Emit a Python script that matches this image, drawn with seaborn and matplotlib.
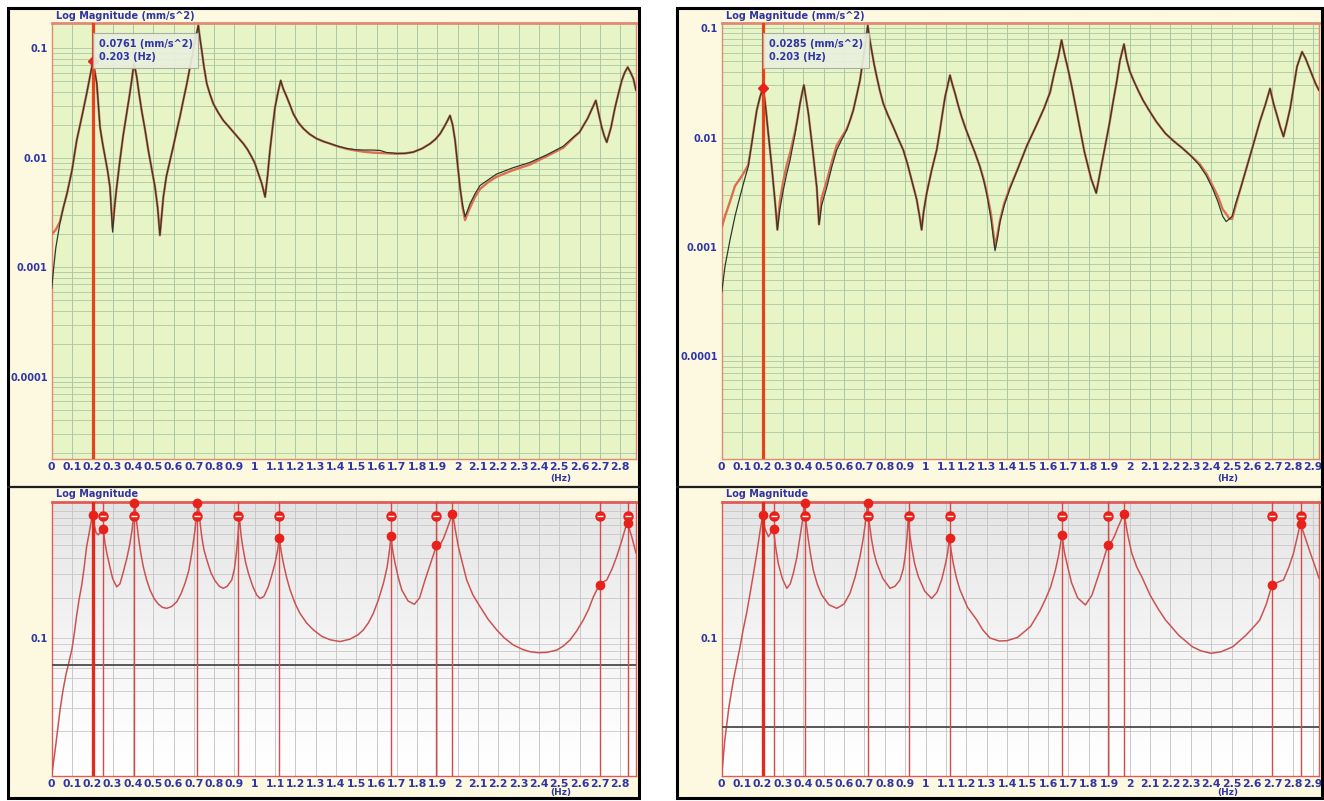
import numpy as np
import matplotlib
matplotlib.use("Agg")
import matplotlib.pyplot as plt
import seaborn as sns
from matplotlib.patches import Rectangle
from matplotlib.lines import Line2D
from matplotlib.ticker import LogLocator, NullFormatter
from matplotlib.colors import LinearSegmentedColormap
import matplotlib.transforms as mtransforms

sns.set_style("white")
plt.rcParams['font.family'] = ['DejaVu Sans']

# ---------------- data ----------------
freq_ticks = [0, 0.1, 0.2, 0.3, 0.4, 0.5, 0.6, 0.7, 0.8, 0.9, 1, 1.1, 1.2, 1.3, 1.4,
              1.5, 1.6, 1.7, 1.8, 1.9, 2, 2.1, 2.2, 2.3, 2.4, 2.5, 2.6, 2.7, 2.8, 2.9]
freq_tick_labels = ["0", "0.1", "0.2", "0.3", "0.4", "0.5", "0.6", "0.7", "0.8", "0.9", "1",
                    "1.1", "1.2", "1.3", "1.4", "1.5", "1.6", "1.7", "1.8", "1.9", "2",
                    "2.1", "2.2", "2.3", "2.4", "2.5", "2.6", "2.7", "2.8", "2.9"]
top_y_ticks = [0.0001, 0.001, 0.01, 0.1]
top_y_labels = ["0.0001", "0.001", "0.01", "0.1"]
bot_y_ticks = [0.1]
bot_y_labels = ["0.1"]

cursor_freq = 0.203

# Left panel, top FRF (measured / synthesized)
LT_f = [0.0, 0.01, 0.02, 0.04, 0.057, 0.075, 0.10, 0.123, 0.148, 0.172, 0.188, 0.203, 0.212,
        0.222, 0.238, 0.25, 0.263, 0.276, 0.287, 0.30, 0.31, 0.318, 0.336, 0.352, 0.369,
        0.383, 0.394, 0.405, 0.412, 0.419, 0.43, 0.443, 0.46, 0.476, 0.492, 0.509, 0.522,
        0.533, 0.55, 0.565, 0.583, 0.60, 0.616, 0.632, 0.648, 0.665, 0.681, 0.695, 0.706,
        0.715, 0.722, 0.73, 0.739, 0.75, 0.764, 0.78, 0.796, 0.82, 0.845, 0.87, 0.895, 0.92,
        0.944, 0.965, 0.985, 1.0, 1.018, 1.035, 1.051, 1.063, 1.075, 1.088, 1.10, 1.115,
        1.128, 1.14, 1.158, 1.175, 1.19, 1.215, 1.24, 1.27, 1.305, 1.34, 1.371, 1.41, 1.453,
        1.495, 1.535, 1.575, 1.617, 1.65, 1.70, 1.74, 1.781, 1.825, 1.864, 1.89, 1.913,
        1.935, 1.95, 1.962, 1.975, 1.987, 2.0, 2.011, 2.024, 2.036, 2.048, 2.06, 2.085,
        2.11, 2.15, 2.19, 2.27, 2.356, 2.44, 2.52, 2.57, 2.60, 2.64, 2.665, 2.68, 2.695,
        2.709, 2.722, 2.734, 2.755, 2.775, 2.792, 2.808, 2.822, 2.837, 2.85, 2.865, 2.878]
LT_meas = [0.00064, 0.0010, 0.0015, 0.0025, 0.0035, 0.0047, 0.0077, 0.0144, 0.0236, 0.0385,
           0.055, 0.0761, 0.062, 0.048, 0.0191, 0.0138, 0.0102, 0.0075, 0.0054, 0.0021,
           0.0036, 0.0050, 0.0095, 0.016, 0.0253, 0.037, 0.051, 0.0725, 0.064, 0.0547,
           0.039, 0.0271, 0.018, 0.0117, 0.008, 0.0054, 0.0035, 0.00196, 0.0044, 0.0068,
           0.0095, 0.013, 0.0178, 0.024, 0.0335, 0.047, 0.0675, 0.09, 0.118, 0.14, 0.162,
           0.125, 0.096, 0.068, 0.0476, 0.038, 0.0313, 0.026, 0.022, 0.0195, 0.0172, 0.0152,
           0.0135, 0.0119, 0.0102, 0.0090, 0.0072, 0.0058, 0.0044, 0.0068, 0.0117, 0.019,
           0.029, 0.040, 0.051, 0.043, 0.036, 0.030, 0.0253, 0.021, 0.0185, 0.0165, 0.0150,
           0.0141, 0.0135, 0.0128, 0.0122, 0.0119, 0.0118, 0.0118, 0.0117, 0.0112, 0.0110,
           0.0110, 0.0113, 0.0122, 0.0135, 0.0148, 0.0166, 0.0195, 0.0220, 0.0244, 0.020,
           0.0144, 0.0085, 0.0054, 0.0037, 0.0029, 0.0033, 0.0038, 0.0047, 0.0056, 0.0063,
           0.0071, 0.0081, 0.0091, 0.0107, 0.0128, 0.0155, 0.0172, 0.023, 0.029, 0.0335,
           0.025, 0.0191, 0.0158, 0.0139, 0.019, 0.029, 0.039, 0.051, 0.060, 0.0675, 0.061,
           0.053, 0.0414]
LT_synth = [0.0020, 0.0021, 0.0022, 0.0026, 0.0035, 0.0047, 0.0077, 0.0144, 0.0236, 0.0385,
            0.055, 0.0761, 0.062, 0.048, 0.0191, 0.0138, 0.0102, 0.0075, 0.0054, 0.0023,
            0.0036, 0.0050, 0.0095, 0.016, 0.0253, 0.037, 0.051, 0.0725, 0.064, 0.0547,
            0.039, 0.0271, 0.018, 0.0117, 0.008, 0.0054, 0.0035, 0.00196, 0.0044, 0.0068,
            0.0095, 0.013, 0.0178, 0.024, 0.0335, 0.047, 0.0675, 0.09, 0.118, 0.14, 0.162,
            0.125, 0.096, 0.068, 0.0476, 0.038, 0.0313, 0.026, 0.022, 0.0195, 0.0172, 0.0152,
            0.0135, 0.0119, 0.0102, 0.0090, 0.0072, 0.0058, 0.0044, 0.0068, 0.0117, 0.019,
            0.029, 0.040, 0.051, 0.043, 0.036, 0.030, 0.0253, 0.021, 0.0185, 0.0165, 0.0150,
            0.0141, 0.0135, 0.0127, 0.0121, 0.0117, 0.0114, 0.0112, 0.0111, 0.0110, 0.0109,
            0.0110, 0.0113, 0.0122, 0.0135, 0.0148, 0.0166, 0.0195, 0.0220, 0.0244, 0.020,
            0.0144, 0.0085, 0.0054, 0.0035, 0.0027, 0.0031, 0.0035, 0.0044, 0.0052, 0.0060,
            0.0067, 0.0077, 0.0087, 0.0104, 0.0124, 0.0153, 0.0172, 0.023, 0.029, 0.0335,
            0.025, 0.0191, 0.0158, 0.0139, 0.019, 0.029, 0.039, 0.051, 0.060, 0.0675, 0.061,
            0.053, 0.0414]
LT_cursor_val = 0.0761

# Right panel, top FRF
RT_f = [0.0, 0.016, 0.041, 0.065, 0.09, 0.11, 0.13, 0.147, 0.16, 0.172, 0.188, 0.203, 0.21,
        0.217, 0.227, 0.237, 0.245, 0.253, 0.263, 0.273, 0.285, 0.302, 0.318, 0.335, 0.36,
        0.372, 0.384, 0.395, 0.403, 0.414, 0.425, 0.436, 0.446, 0.456, 0.466, 0.477, 0.49,
        0.515, 0.54, 0.564, 0.59, 0.613, 0.63, 0.645, 0.662, 0.678, 0.697, 0.708, 0.716,
        0.725, 0.735, 0.747, 0.76, 0.775, 0.792, 0.815, 0.841, 0.865, 0.89, 0.91, 0.931,
        0.956, 0.97, 0.98, 0.99, 1.005, 1.03, 1.054, 1.07, 1.083, 1.095, 1.108, 1.119, 1.13,
        1.144, 1.16, 1.176, 1.195, 1.217, 1.24, 1.266, 1.285, 1.30, 1.32, 1.34, 1.352, 1.364,
        1.385, 1.413, 1.45, 1.497, 1.54, 1.58, 1.61, 1.629, 1.65, 1.666, 1.68, 1.696, 1.715,
        1.737, 1.758, 1.778, 1.795, 1.811, 1.836, 1.855, 1.878, 1.90, 1.919, 1.937, 1.952,
        1.972, 1.985, 2.0, 2.02, 2.043, 2.065, 2.093, 2.13, 2.175, 2.215, 2.258, 2.30, 2.341,
        2.375, 2.407, 2.432, 2.456, 2.473, 2.489, 2.502, 2.52, 2.545, 2.572, 2.605, 2.638,
        2.665, 2.688, 2.705, 2.721, 2.738, 2.754, 2.77, 2.787, 2.805, 2.82, 2.845, 2.862,
        2.878, 2.895, 2.911, 2.928]
RT_meas = [0.00038, 0.00066, 0.00116, 0.0019, 0.0029, 0.0040, 0.0054, 0.0088, 0.0128, 0.0178,
           0.0236, 0.0285, 0.0230, 0.0178, 0.0115, 0.0077, 0.0055, 0.0038, 0.0024, 0.00143,
           0.0022, 0.0033, 0.0046, 0.0062, 0.0109, 0.0150, 0.0205, 0.026, 0.0302, 0.0225,
           0.0166, 0.0112, 0.0077, 0.0052, 0.0035, 0.0016, 0.0024, 0.0035, 0.0054, 0.0077,
           0.0097, 0.0117, 0.0145, 0.0178, 0.0245, 0.0335, 0.0586, 0.080, 0.106, 0.080,
           0.063, 0.047, 0.036, 0.027, 0.0205, 0.016, 0.0125, 0.0098, 0.0077, 0.0058, 0.0041,
           0.0027, 0.0019, 0.00143, 0.0021, 0.0031, 0.0051, 0.0077, 0.0117, 0.0170, 0.0235,
           0.030, 0.0372, 0.031, 0.0253, 0.0195, 0.0155, 0.0122, 0.0095, 0.0074, 0.0054,
           0.0040, 0.0030, 0.0018, 0.00092, 0.0012, 0.00167, 0.0024, 0.0034, 0.0051, 0.0085,
           0.0126, 0.0185, 0.026, 0.038, 0.055, 0.078, 0.058, 0.0436, 0.030, 0.0185, 0.0115,
           0.0074, 0.0055, 0.0042, 0.0031, 0.0048, 0.0080, 0.0132, 0.0214, 0.033, 0.0503,
           0.0716, 0.052, 0.0406, 0.033, 0.0266, 0.022, 0.0180, 0.014, 0.0109, 0.0093, 0.0080,
           0.0068, 0.0056, 0.0045, 0.0034, 0.0026, 0.0019, 0.0017, 0.0018, 0.0019, 0.0025,
           0.0035, 0.0052, 0.0085, 0.0140, 0.020, 0.0281, 0.0205, 0.0162, 0.0125, 0.0102,
           0.0135, 0.0186, 0.030, 0.0445, 0.061, 0.053, 0.0445, 0.037, 0.0312, 0.027]
RT_synth = [0.0015, 0.0019, 0.0026, 0.0036, 0.0042, 0.0048, 0.0056, 0.0088, 0.0128, 0.0178,
            0.0236, 0.0285, 0.0230, 0.0178, 0.0115, 0.0077, 0.0055, 0.0038, 0.0024, 0.00143,
            0.0026, 0.0040, 0.0055, 0.0072, 0.0115, 0.0150, 0.0205, 0.026, 0.0302, 0.0225,
            0.0166, 0.0112, 0.0077, 0.0052, 0.0035, 0.0016, 0.0028, 0.0040, 0.0060, 0.0085,
            0.0102, 0.0120, 0.0145, 0.0178, 0.0245, 0.0335, 0.0586, 0.080, 0.106, 0.080,
            0.063, 0.047, 0.036, 0.027, 0.0205, 0.016, 0.0125, 0.0098, 0.0077, 0.0058, 0.0041,
            0.0027, 0.0019, 0.00143, 0.0021, 0.0031, 0.0051, 0.0077, 0.0117, 0.0170, 0.0235,
            0.030, 0.0372, 0.031, 0.0253, 0.0195, 0.0155, 0.0122, 0.0095, 0.0074, 0.0054,
            0.0041, 0.0031, 0.0020, 0.00100, 0.0013, 0.00175, 0.0025, 0.0035, 0.0051, 0.0085,
            0.0126, 0.0185, 0.026, 0.038, 0.055, 0.078, 0.058, 0.0436, 0.030, 0.0185, 0.0115,
            0.0074, 0.0055, 0.0042, 0.0031, 0.0048, 0.0080, 0.0132, 0.0214, 0.033, 0.0503,
            0.0716, 0.052, 0.0406, 0.033, 0.0266, 0.022, 0.0180, 0.014, 0.0109, 0.0093, 0.0080,
            0.0068, 0.0058, 0.0047, 0.0036, 0.0029, 0.0022, 0.0020, 0.0018, 0.0018, 0.0024,
            0.0035, 0.0052, 0.0085, 0.0140, 0.020, 0.0281, 0.0205, 0.0162, 0.0125, 0.0102,
            0.0135, 0.0186, 0.030, 0.0445, 0.061, 0.053, 0.0445, 0.037, 0.0312, 0.027]
RT_cursor_val = 0.0285

# Bottom: mode indicator curves
LB_f = [0.0, 0.01, 0.02, 0.03, 0.04, 0.055, 0.07, 0.085, 0.10, 0.112, 0.123, 0.135, 0.148,
        0.16, 0.172, 0.185, 0.195, 0.202, 0.21, 0.218, 0.229, 0.24, 0.248, 0.254, 0.262,
        0.272, 0.287, 0.30, 0.32, 0.336, 0.352, 0.369, 0.384, 0.396, 0.404, 0.41, 0.416,
        0.427, 0.438, 0.451, 0.467, 0.484, 0.505, 0.525, 0.545, 0.566, 0.59, 0.616, 0.637,
        0.657, 0.675, 0.69, 0.703, 0.714, 0.722, 0.729, 0.739, 0.75, 0.764, 0.784, 0.804,
        0.825, 0.845, 0.865, 0.887, 0.90, 0.91, 0.918, 0.924, 0.932, 0.941, 0.955, 0.969,
        0.99, 1.01, 1.026, 1.045, 1.067, 1.085, 1.10, 1.112, 1.121, 1.13, 1.141, 1.157,
        1.174, 1.2, 1.223, 1.255, 1.289, 1.33, 1.371, 1.42, 1.469, 1.51, 1.535, 1.56, 1.584,
        1.61, 1.634, 1.652, 1.664, 1.671, 1.68, 1.691, 1.707, 1.724, 1.755, 1.786, 1.812,
        1.839, 1.865, 1.888, 1.90, 1.913, 1.93, 1.946, 1.962, 1.975, 1.988, 2.003, 2.022,
        2.044, 2.075, 2.11, 2.15, 2.192, 2.23, 2.274, 2.32, 2.356, 2.397, 2.44, 2.488, 2.52,
        2.553, 2.586, 2.619, 2.645, 2.668, 2.697, 2.715, 2.734, 2.76, 2.783, 2.805, 2.822,
        2.833, 2.845, 2.857, 2.878]
LB_v = [0.0092, 0.012, 0.0157, 0.021, 0.028, 0.040, 0.053, 0.066, 0.083, 0.110, 0.148, 0.195,
        0.25, 0.34, 0.485, 0.62, 0.76, 0.84, 0.70, 0.62, 0.595, 0.62, 0.65, 0.67, 0.52,
        0.43, 0.34, 0.28, 0.242, 0.255, 0.31, 0.39, 0.50, 0.65, 0.85, 1.03, 0.80, 0.577,
        0.44, 0.343, 0.275, 0.23, 0.197, 0.180, 0.170, 0.167, 0.172, 0.187, 0.215, 0.258,
        0.32, 0.433, 0.60, 0.82, 1.03, 0.78, 0.577, 0.46, 0.386, 0.31, 0.27, 0.245, 0.236,
        0.245, 0.273, 0.33, 0.44, 0.60, 0.84, 0.60, 0.485, 0.37, 0.306, 0.245, 0.21, 0.198,
        0.205, 0.243, 0.30, 0.365, 0.45, 0.56, 0.45, 0.365, 0.285, 0.23, 0.18, 0.153, 0.13,
        0.115, 0.103, 0.097, 0.094, 0.098, 0.106, 0.115, 0.13, 0.153, 0.195, 0.258, 0.34,
        0.46, 0.577, 0.45, 0.365, 0.285, 0.23, 0.19, 0.179, 0.20, 0.273, 0.36, 0.458, 0.48,
        0.50, 0.56, 0.65, 0.76, 0.866, 0.65, 0.485, 0.37, 0.273, 0.21, 0.172, 0.138, 0.115,
        0.10, 0.0886, 0.082, 0.0789, 0.0775, 0.078, 0.0812, 0.087, 0.0966, 0.113, 0.137,
        0.165, 0.204, 0.25, 0.262, 0.273, 0.33, 0.409, 0.52, 0.64, 0.73, 0.66, 0.577, 0.433]
RB_f = [0.0, 0.015, 0.035, 0.057, 0.075, 0.09, 0.105, 0.122, 0.14, 0.155, 0.172, 0.187, 0.201,
        0.212, 0.229, 0.242, 0.253, 0.263, 0.277, 0.297, 0.319, 0.336, 0.351, 0.368, 0.384,
        0.396, 0.405, 0.413, 0.425, 0.436, 0.449, 0.468, 0.49, 0.525, 0.564, 0.60, 0.629,
        0.655, 0.678, 0.694, 0.706, 0.714, 0.722, 0.735, 0.746, 0.76, 0.79, 0.825, 0.85,
        0.874, 0.89, 0.899, 0.908, 0.915, 0.922, 0.931, 0.946, 0.964, 0.995, 1.029, 1.055,
        1.078, 1.097, 1.108, 1.116, 1.125, 1.135, 1.15, 1.168, 1.205, 1.25, 1.28, 1.315,
        1.36, 1.398, 1.45, 1.514, 1.56, 1.59, 1.613, 1.635, 1.652, 1.668, 1.68, 1.696, 1.715,
        1.745, 1.783, 1.815, 1.845, 1.87, 1.891, 1.907, 1.925, 1.944, 1.96, 1.972, 1.99,
        2.01, 2.035, 2.059, 2.10, 2.14, 2.175, 2.24, 2.307, 2.35, 2.399, 2.45, 2.506, 2.57,
        2.61, 2.638, 2.67, 2.696, 2.725, 2.754, 2.78, 2.803, 2.82, 2.837, 2.855, 2.886, 2.91,
        2.928]
RB_v = [0.0092, 0.017, 0.03, 0.048, 0.066, 0.086, 0.115, 0.153, 0.22, 0.30, 0.433, 0.62, 0.84,
        0.66, 0.577, 0.62, 0.67, 0.50, 0.365, 0.28, 0.236, 0.255, 0.306, 0.40, 0.577, 0.76,
        1.03, 0.75, 0.545, 0.42, 0.324, 0.255, 0.211, 0.178, 0.167, 0.18, 0.217, 0.29,
        0.409, 0.56, 0.76, 1.03, 0.76, 0.545, 0.44, 0.365, 0.28, 0.236, 0.245, 0.273, 0.33,
        0.409, 0.56, 0.81, 0.60, 0.485, 0.36, 0.289, 0.225, 0.198, 0.22, 0.273, 0.36, 0.44,
        0.56, 0.45, 0.365, 0.285, 0.23, 0.17, 0.137, 0.115, 0.10, 0.095, 0.0954, 0.101,
        0.122, 0.16, 0.20, 0.243, 0.32, 0.42, 0.595, 0.44, 0.343, 0.26, 0.20, 0.177, 0.21,
        0.289, 0.38, 0.485, 0.516, 0.58, 0.686, 0.78, 0.866, 0.60, 0.433, 0.34, 0.289, 0.21,
        0.165, 0.137, 0.105, 0.086, 0.08, 0.0767, 0.079, 0.086, 0.105, 0.122, 0.137, 0.18,
        0.246, 0.262, 0.273, 0.34, 0.433, 0.56, 0.73, 0.60, 0.433, 0.34, 0.28]
LB_threshold = 0.063
RB_threshold = 0.0216

peak_freqs = [0.254, 0.407, 0.718, 0.920, 1.120, 1.670, 1.895, 1.973, 2.700, 2.838]
band_mark_freqs = [0.254, 0.407, 0.718, 0.920, 1.120, 1.670, 1.895, 2.700, 2.838]
band_mark_level = 0.83
dot_freqs = [0.203, 0.254, 0.407, 0.718, 1.120, 1.670, 1.895, 1.973, 2.700, 2.838]
LB_dot_vals = [0.84, 0.66, 1.04, 1.04, 0.56, 0.58, 0.50, 0.86, 0.25, 0.73]
RB_dot_vals = [0.84, 0.66, 1.04, 1.04, 0.56, 0.59, 0.50, 0.86, 0.25, 0.72]

# ---------------- style ----------------
W, H = 1324, 801
BLUE = '#2f35a6'
CREAM = '#fcf9e0'
GREEN = '#e6f4c6'
GRID_G = '#abc7a4'
GRID_B = '#c8c8c8'
RED_CURVE = '#de6e50'
DARK_CURVE = '#2e3a2c'
CURSOR = '#e8421c'
MARK = '#e8221a'

fig = plt.figure(figsize=(W / 100, H / 100), dpi=100)
fig.patch.set_facecolor('white')
gray_cmap = LinearSegmentedColormap.from_list('g', ['#ffffff', '#e4e4e4'])


def fig_text(px, py, s, size=7, **kw):
    fig.text(px / W, 1 - py / H, s, color=BLUE, fontsize=size, fontweight='bold', **kw)


def style_axis(ax, xmax, ylim, yticks, ylabels, grid_color, spine_color):
    ax.set_yscale('log')
    ax.set_xlim(0, xmax)
    ax.set_ylim(*ylim)
    ticks = [t for t in freq_ticks if t <= xmax]
    ax.set_xticks(ticks)
    ax.set_xticklabels(freq_tick_labels[:len(ticks)], fontsize=7.8, fontweight='bold',
                       color=BLUE)
    ax.set_yticks(yticks)
    ax.set_yticklabels(ylabels, fontsize=7, fontweight='bold', color=BLUE)
    ax.yaxis.set_minor_locator(LogLocator(base=10, subs=np.arange(2, 10), numticks=100))
    ax.yaxis.set_minor_formatter(NullFormatter())
    ax.tick_params(axis='both', which='both', length=0, pad=3)
    ax.tick_params(axis='x', pad=2.5)
    ax.grid(True, which='both', axis='y', color=grid_color, lw=0.6)
    ax.grid(True, which='major', axis='x', color=grid_color, lw=0.7)
    ax.set_axisbelow(True)
    for s in ax.spines.values():
        s.set_color(spine_color)
        s.set_linewidth(1.0)
    ax.spines['top'].set_linewidth(2.0)
    ax.set_xlabel('')
    ax.set_ylabel('')


def panel(frame, xl, xr, xmax, top_ylim, f_top, meas, synth, cval,
          f_bot, v_bot, thresh, dot_vals, hz_px):
    x0, y0, x1, y1 = frame
    fig.add_artist(Rectangle((x0 / W, 1 - y1 / H), (x1 - x0) / W, (y1 - y0) / H,
                             transform=fig.transFigure, fc=CREAM, ec='none', zorder=-5))
    fig.add_artist(Rectangle((x0 / W, 1 - y1 / H), (x1 - x0) / W, (y1 - y0) / H,
                             transform=fig.transFigure, fill=False, ec='black', lw=2.2, zorder=20))
    fig.add_artist(Line2D([x0 / W, x1 / W], [1 - 487 / H] * 2, transform=fig.transFigure,
                          color='#1e1e1e', lw=1.6, zorder=20))

    # ---- top FRF plot ----
    axt = fig.add_axes([xl / W, 1 - 459 / H, (xr - xl) / W, (459 - 23) / H])
    axt.set_facecolor(GREEN)
    sns.lineplot(x=f_top, y=synth, ax=axt, color=RED_CURVE, lw=1.7, estimator=None,
                 sort=False, legend=False, zorder=3)
    sns.lineplot(x=f_top, y=meas, ax=axt, color=DARK_CURVE, lw=0.9, estimator=None,
                 sort=False, legend=False, zorder=4)
    style_axis(axt, xmax, top_ylim, top_y_ticks, top_y_labels, GRID_G, '#e08a74')
    axt.axvline(cursor_freq, color=CURSOR, lw=2.3, zorder=5)
    axt.plot([cursor_freq], [cval], marker='D', color=MARK, ms=5, zorder=6)
    tr = mtransforms.blended_transform_factory(axt.transData, axt.transAxes)
    axt.text(cursor_freq + 0.028, 0.937, f"{cval:.4f} (mm/s^2)\n{cursor_freq:.3f} (Hz)",
             transform=tr, ha='left', va='center', color=BLUE, fontsize=7,
             fontweight='bold', linespacing=1.35, zorder=7,
             bbox=dict(boxstyle='square,pad=0.6', fc='#e9efdc', ec='#a4ab9f', lw=0.8, alpha=0.92))
    fig_text(xl + 4, 16, "Log Magnitude (mm/s^2)", ha='left', va='center')
    fig_text(hz_px, 478, "(Hz)", size=6.5, ha='center', va='center')

    # ---- bottom indicator plot ----
    axb = fig.add_axes([xl / W, 1 - 776 / H, (xr - xl) / W, (776 - 502) / H])
    grad = np.linspace(1, 0, 256).reshape(-1, 1) ** 1.3
    axb.imshow(grad, cmap=gray_cmap, extent=[0, 1, 0, 1], transform=axb.transAxes,
               aspect='auto', zorder=0, vmin=0, vmax=1)
    sns.lineplot(x=f_bot, y=v_bot, ax=axb, color='#cc5252', lw=1.1, estimator=None,
                 sort=False, legend=False, zorder=3)
    style_axis(axb, xmax, (0.0092, 1.05), bot_y_ticks, bot_y_labels, GRID_B, '#e05a5a')
    axb.axhline(thresh, color='#4a4a4a', lw=1.3, zorder=3)
    for pf in peak_freqs:
        axb.axvline(pf, color='#d84a4a', lw=1.0, zorder=4)
    axb.axvline(cursor_freq, color='#e02a1a', lw=2.4, zorder=5)
    axb.plot(band_mark_freqs, [band_mark_level] * len(band_mark_freqs), 'o', color=MARK,
             ms=6.5, zorder=6, clip_on=False)
    axb.plot(band_mark_freqs, [band_mark_level] * len(band_mark_freqs), '_', color='white',
             ms=4.5, mew=1.0, zorder=7, clip_on=False)
    axb.plot(dot_freqs, dot_vals, 'o', color=MARK, ms=6, zorder=6, clip_on=False)
    fig_text(xl + 4, 494, "Log Magnitude", ha='left', va='center')
    fig_text(hz_px, 793, "(Hz)", size=6.5, ha='center', va='center')


panel((8, 8, 639, 798), 51.7, 636, 2.878, (1.77e-5, 0.171), LT_f, LT_meas, LT_synth,
      LT_cursor_val, LB_f, LB_v, LB_threshold, LB_dot_vals, 561)
panel((677, 8, 1322, 798), 721.7, 1319, 2.928, (1.14e-5, 0.1118), RT_f, RT_meas, RT_synth,
      RT_cursor_val, RB_f, RB_v, RB_threshold, RB_dot_vals, 1228)

fig.savefig("out.png", dpi=100)
